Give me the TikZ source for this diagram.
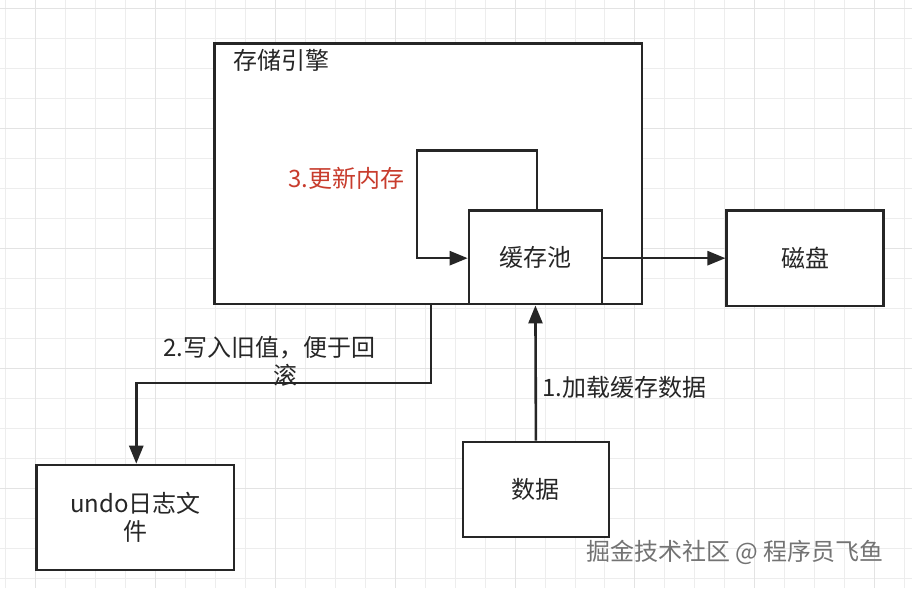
\documentclass[tikz,border=0pt]{standalone}
\usepackage{fontspec}
\setmainfont{Noto Sans CJK SC}
\usetikzlibrary{arrows.meta}
\begin{document}
\begin{tikzpicture}[x=1pt,y=-1pt,
  box/.style={draw=black!85,line width=2.6pt,fill=white},
  arr/.style={draw=black!85,line width=2.6pt,-{Triangle[length=18pt,width=14pt]}},
  lbl/.style={font=\fontsize{24}{28}\selectfont,text=black!85}]
\fill[white] (0,0) rectangle (912,588);
\foreach \x in {5,35,...,905} \draw[black!7,line width=0.8pt] (\x,0) -- (\x,588);
\foreach \y in {8,38,...,588} \draw[black!7,line width=0.8pt] (0,\y) -- (912,\y);
\foreach \x in {35,155,...,905} \draw[black!11,line width=0.8pt] (\x,0) -- (\x,588);
\foreach \y in {8,128,...,588} \draw[black!11,line width=0.8pt] (0,\y) -- (912,\y);
\draw[box] (214,43) rectangle (642,304);
\node[lbl,anchor=west] (eng) at (230,60) {存储引擎};
\node[box,minimum width=133pt,minimum height=94pt,lbl] (pool) at (535.5,257) {缓存池};
\node[box,minimum width=157pt,minimum height=96pt,lbl] (disk) at (805.5,258) {磁盘};
\node[box,minimum width=198pt,minimum height=105pt,lbl,align=center] (undo) at (135,517.5) {undo日志文\\件};
\node[box,minimum width=146pt,minimum height=95pt,lbl] (data) at (536,489.5) {数据};
\coordinate (l1) at (537,150); \coordinate (l2) at (417,150); \coordinate (l3) at (417,258);
\draw[arr] (pool.north -| l1) -- (l1) -- (l2) -- (l3) -- (pool.west |- l3);
\node[lbl,text={rgb,255:red,200;green,60;blue,45}] (upd) at (346,178) {3.更新内存};
\draw[arr] (pool.east |- disk) -- (disk.west);
\draw[arr] (data.north) -- (pool.south);
\node[lbl,anchor=west] (load) at (539,387) {1.加载缓存数据};
\coordinate (u0) at (431,304); \coordinate (u1) at (431,383); \coordinate (u2) at (136,383);
\draw[arr] (u0) -- (u1) -- (u2) -- (undo.north -| u2);
\node[lbl,align=left,anchor=north west,inner sep=0pt] (old) at (163,336) {2.写入旧值，便于回\\\hspace*{110pt}滚};
\node[font=\fontsize{24}{28}\selectfont,text=black!55,anchor=west] (wm) at (583,552) {掘金技术社区 @ 程序员飞鱼};
\end{tikzpicture}
\end{document}
